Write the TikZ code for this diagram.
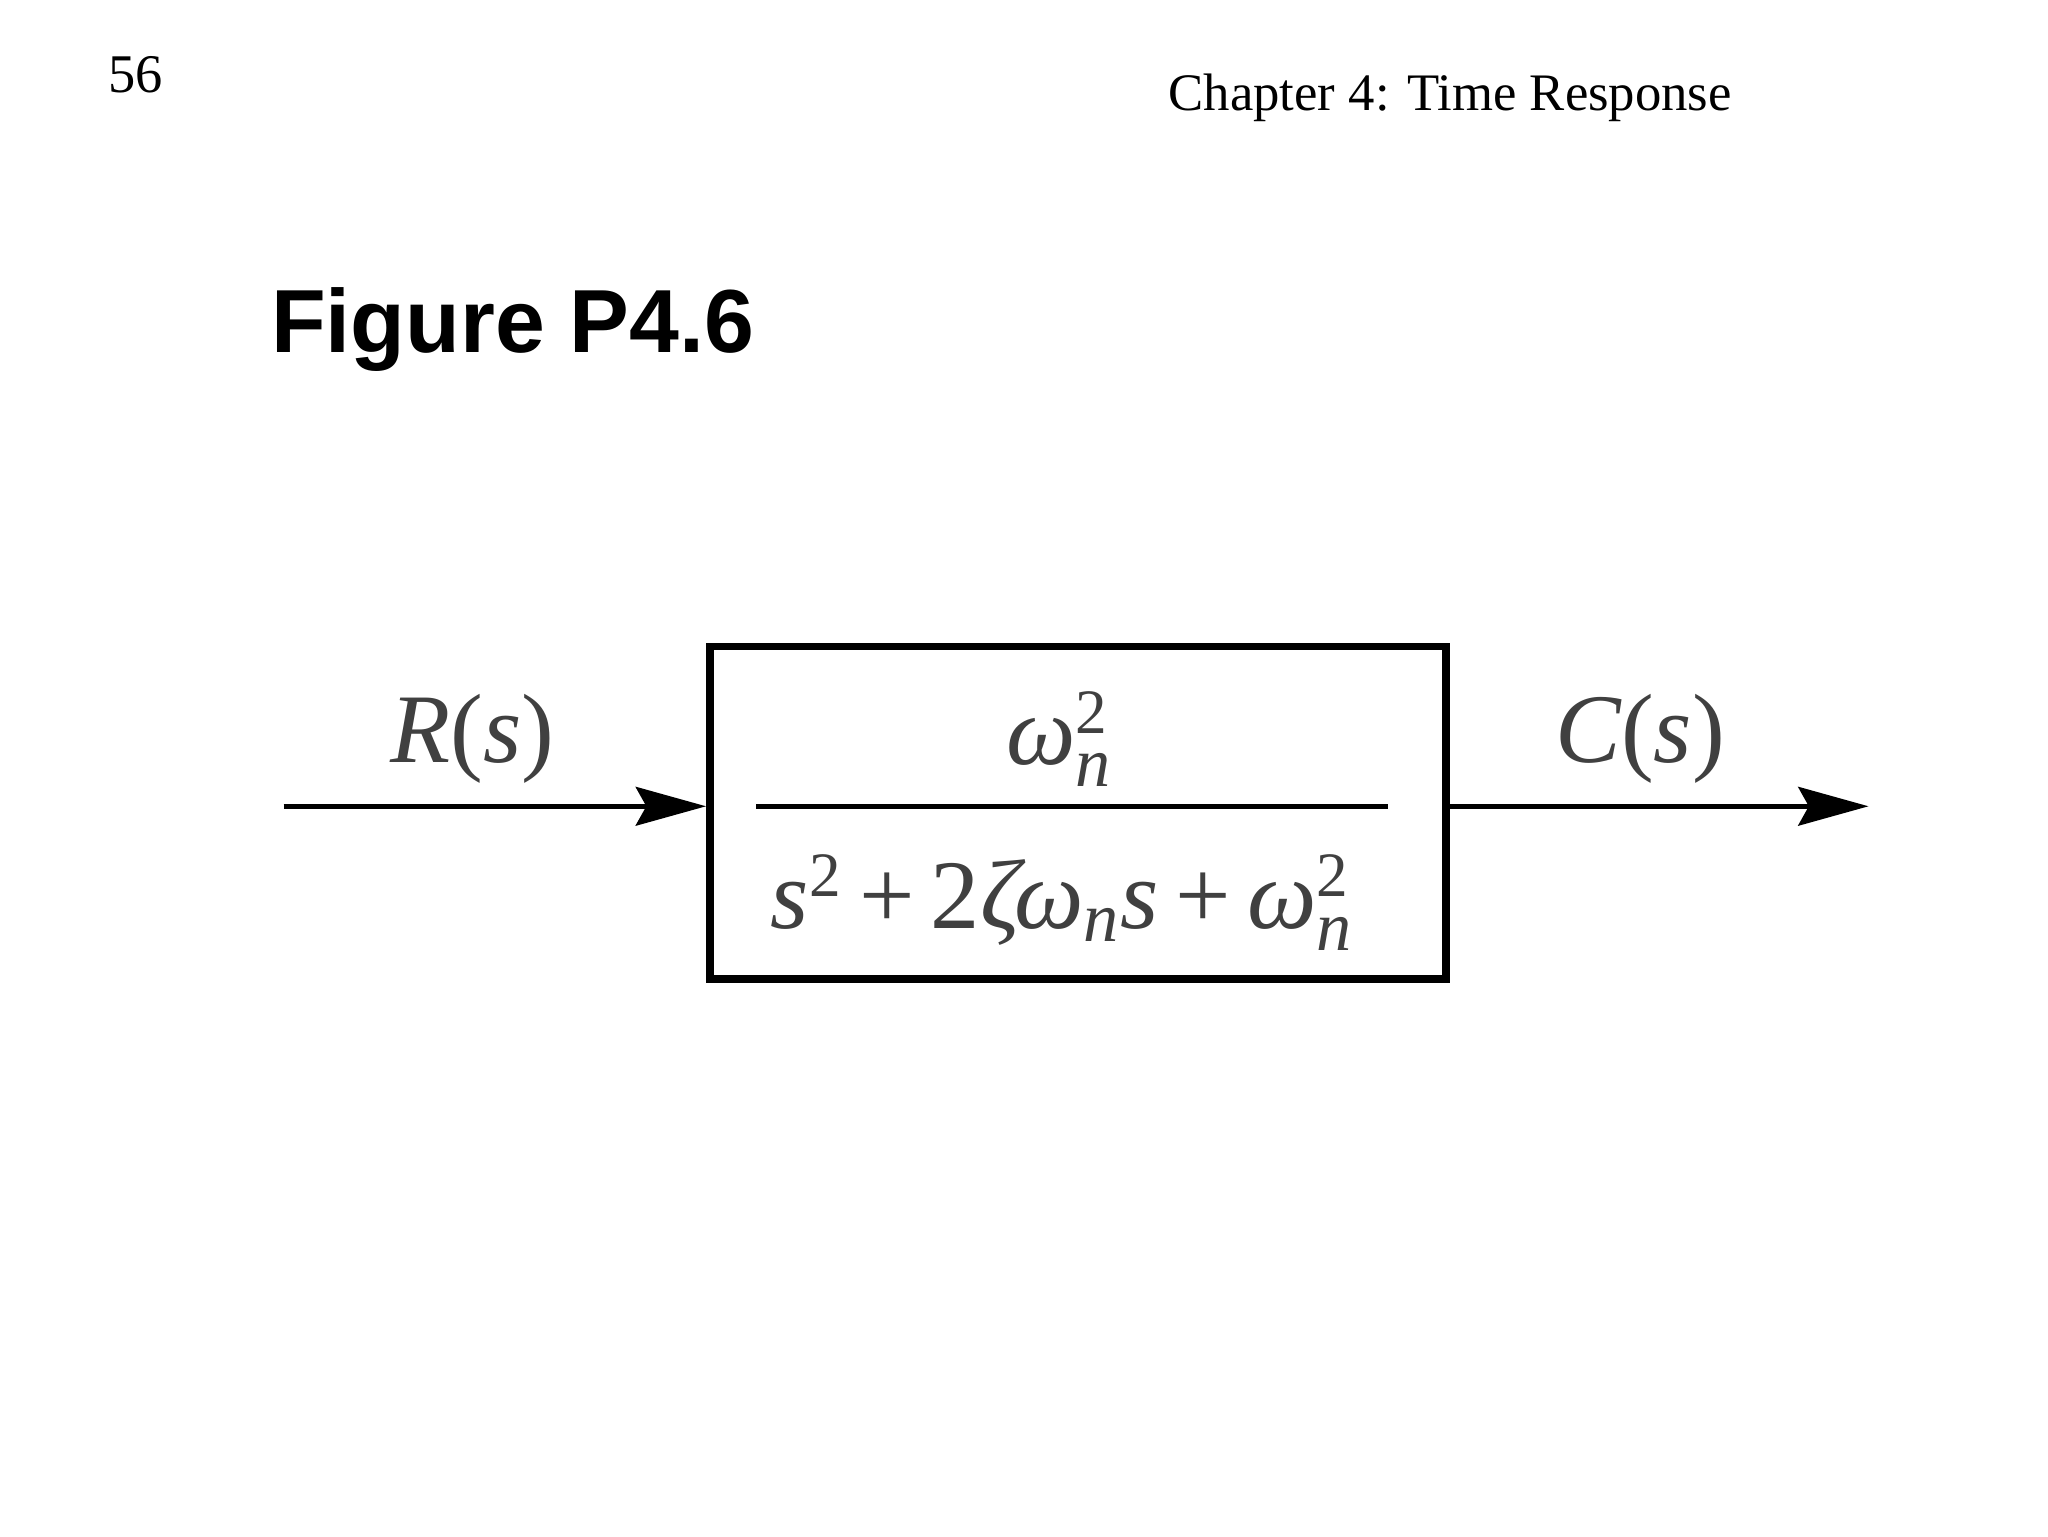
\documentclass[tikz,border=0pt]{standalone}
\usepackage{fontspec}
\setmainfont{Liberation Serif}
\setsansfont{Liberation Sans}
\usetikzlibrary{arrows.meta}
\newcommand{\supsub}[2]{\ensuremath{\vphantom{x}^{\mbox{\fontsize{18}{18}\selectfont\upshape #1}}_{\mbox{\fontsize{20}{20}\selectfont\itshape #2}}}}
\tikzset{
  sig/.style={line width=1.5pt,-{Stealth[length=20pt,width=11pt,inset=3pt]}},
  blk/.style={draw,line width=2.2pt,minimum width=558*0.0132cm,minimum height=252*0.0132cm,inner sep=0pt},
  lbl/.style={font=\fontsize{28}{30}\selectfont,text=black!75,inner sep=1pt}
}
\begin{document}
\begin{tikzpicture}[x=0.0132cm,y=-0.0132cm]
\useasboundingbox (0,0) rectangle (1552,1164);
\node[font=\fontsize{15.5}{18}\selectfont] (pg) at (103,57) {56};
\node[font=\fontsize{15}{18}\selectfont] (ch) at (1099,74) {Chapter 4: Time Response};
\node[font=\sffamily\bfseries\fontsize{25.5}{30}\selectfont,anchor=west] (fig) at (196,250) {Figure P4.6};
\node[blk] (g) at (817,616) {};
\coordinate (fl) at (573,611);
\coordinate (fr) at (1052,611);
\draw[line width=1.5pt] (fl) -- (fr);
\node[lbl] (num) at (803,560) {\itshape ω\supsub{2}{n}};
\node[lbl] (den) at (805,684) {\itshape s\ensuremath{^{\mbox{\fontsize{18}{18}\selectfont\upshape 2}}}\,{\upshape+}\,{\upshape 2}ζω\ensuremath{_{\mbox{\fontsize{20}{20}\selectfont\itshape n}}}s\,{\upshape+}\,ω\supsub{2}{n}};
\coordinate (in) at (215,611);
\coordinate (out) at (1416,611);
\draw[sig] (in) -- (g.west |- in);
\draw[sig] (g.east |- out) -- (out);
\node[lbl] (r) at (358,560) {\itshape R\upshape(\itshape s\upshape)};
\node[lbl] (c) at (1243,560) {\itshape C\upshape(\itshape s\upshape)};
\end{tikzpicture}
\end{document}
